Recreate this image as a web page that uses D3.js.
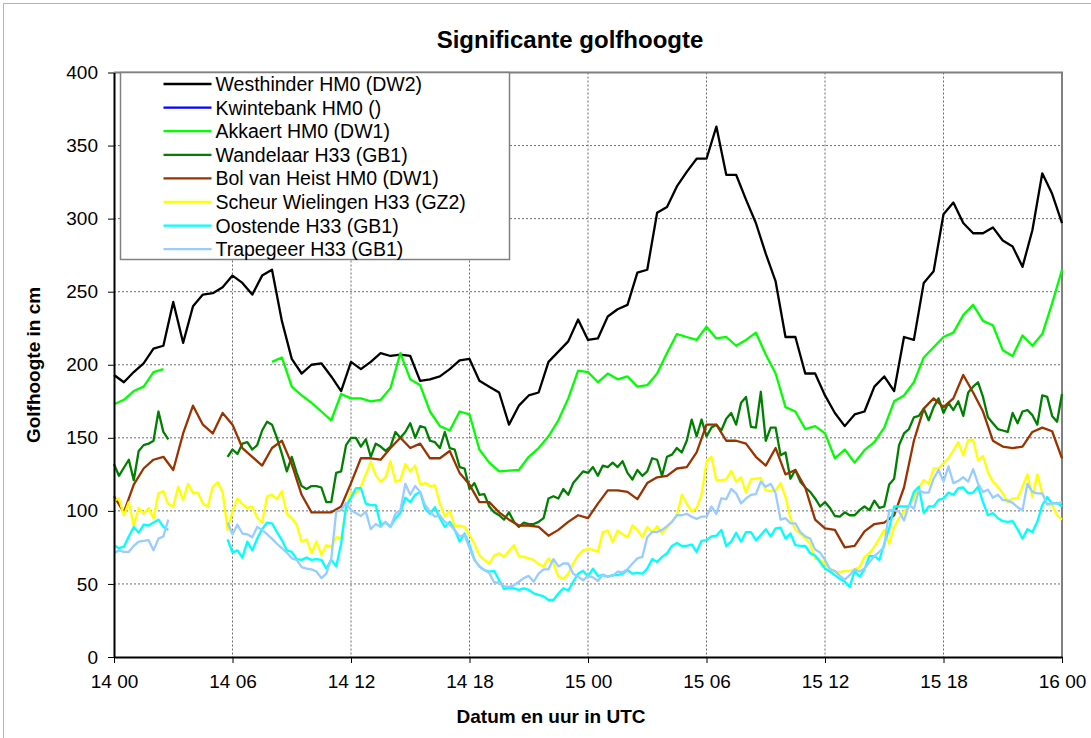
<!DOCTYPE html>
<html>
<head>
<meta charset="utf-8">
<script src="https://cdn.jsdelivr.net/npm/d3@7"></script>
<style>
  body { margin: 0; background: #fff; }
  svg { display: block; font-family: "Liberation Sans", Arial, sans-serif; }
  .eje path { stroke: #000; stroke-width: 2; }
  .eje line { stroke: #000; stroke-width: 1; }
  .eje text { font-size: 19px; fill: #000; }
</style>
</head>
<body>
<div id="graf"></div>
<script>
// uren sinds 14 00 UTC; 30-min reeksen en 15-min reeksen
const westhinder = [193,188,195,201,211,213,243,215,240,248,249,253,261,256,248,261,265,
  230,204,194,200,201,192,182,202,197,202,208,206,207,206,189,190,
  192,197,203,204,189,185,181,159,172,179,181,202,209,216,231,217,
  218,233,238,241,263,265,304,308,322,332,341,341,363,330,330,313,
  297,276,257,219,219,194,194,179,167,158,166,168,185,192,182,219,
  217,256,264,303,311,297,290,290,294,285,281,267,292,331,317,297];

const kwintebank = [];

const akkaert = [173,176,182,185,195,197,null,null,null,null,null,null,null,null,null,null,202,
  205,185,179,174,168,162,180,177,177,175,176,184,208,190,186,168,
  158,155,168,166,142,133,127,127.5,128,137,143,151,162,177,196,195,
  188,194,190,192,185,186,194,208,221,219,217,226,218,219,213,217,
  222,207,194,171,168,156,158,153,136,142,133,141.5,147,157,175,179,
  188,205,212,219,222,234,241,230,227,210,206,220,213,221,242,265];

const bolVanHeist = [110,99,118,129,135,137,128,153,172,159,153,167,159,143,137,131,143,
  148,132,111,99,99,99,103,119,136,136,135,143,150,143,146,136,
  136,141,126,118,106,106,99,94,90,90,89,83,87,92.5,97,95,
  105,114,114,113,108,119,123,124,129,130,140,159,159,148,148,146,
  137,131,143,125,128,116,94,88,87,75,76,86,91,92,97,116,
  148,170,177,171,177,193,181,168,148,144,143,144,154,157,154.5,136];

const wandelaar = [132,124,129.5,135, 121,141,145,146, 148,168,154,149,
  null,null,null,null, null,null,null,null, null,null,null,137,
  142,139,146,147, 142,145,155,161, 159,150,139,127, 137,126,117,115,
  117,117,116,106, 106,126,127,145, 150,150,144,149, 137,146,144,141,
  144,154,150,154, 160,150,158,157, 148,147,143,154, 143,142,130,129,
  115,119,111,111.5, 103,99,97,94, 99,92.5,89,92, 91,91,92.5,95,
  108.5,110,108.5,115, 111,119,123,127, 126,130,124,131, 130,133,130,134,
  126,121.5,128,124, 127,136,135,124, 137,138.5,143,140, 148,162.5,151,162.5,
  151,157,159,155, 163,167,159,174, 178,157.5,157,181.5, 148,157,157,138,
  140,122,128,120, 116,113,108.5,103, 106,102,96.5,96, 99,97,97,100.5,
  103,100.5,107,102, 103,118,122,145, 153,156,164,165, 170,162,171,177,
  167,174,169,175, 165,181,185,188, 178,164,160,156, 155,154,167,160,
  168,169,165.5,159, 179,178,165,161, 180];

const scheur = [107,108.5,97,106, 90,102,98,102, 95,112,113.5,104.5, 103,116.5,107.5,118.5,
  112,112.5,105,103, 116.5,119.5,113,87, 99.5,108.5,104.5,102, 103,95.5,92,110,
  111,108,113.5,98, 95,90.5,79,80.5, 71,79,70,76.5, 75.5,82,81,101.5,
  113,112,116.5,125, 133.5,124.5,120,123, 134,120,121,132, 127,131,118,119,
  117,117.5,105,96, 100,89.5,90,89, 83.5,77.5,69.5,66.5, 64,69.5,71,68.5,
  72.5,76.5,69,68.5, 67.5,66.5,63.5,62, 67.5,64,55,53.5, 57,64,69.5,73,
  74,73.5,72,85.5, 86.5,78.5,86.5,84, 82,90,87,82, 89,85.5,89.5,84.5,
  89,92.5,97,111, 105,99.5,102,111, 133.5,137,121,121, 121.5,127.5,120,123,
  112.5,121.5,122,122.5, 114,113.5,114,119, 109.5,95,87,84.5, 81,77.5,67.5,66.5,
  64,60.5,58.5,58, 59,59,60,61.5, 68.5,71,75.5,81, 87,77.5,89,95,
  99.5,103,109.5,115.5, 121,118.5,129,129, 132.5,136,141.5,147, 138,148.5,148.5,134.5,
  137.5,126.5,120,116.5, 112,106,108.5,108.5, 116.5,125,109.5,125, 112,104,104,97, 94];

const oostende = [76.5,74.5,75.5,82.5, 89,85,90.5,90, 92,94,89,87,
  null,null,null,null, null,null,null,null, null,null,null,80.5,
  71.5,73,68,79, 73,81,87.5,92, 91.5,85.5,80,73, 72,67,66.5,68,
  66.5,67,66.5,60.5, 66.5,62,77.5,103, 109,115.5,115.5,105, 104,104,90.5,92,
  89,95,98.5,109, 106,111,113,101.5, 98,102.5,95,89, 92.5,87,79,84.5,
  76.5,66.5,62,59.5, 58.5,59,52.5,46.5, 47.5,47,46,47, 46,43.5,42.5,41.5,
  39,39,43.5,47, 45.5,51.5,57,59, 55,60.5,55.5,56, 55,56,56,57,
  59.5,57,57.5,57, 60.5,67,65,68.5, 71,76,78,76, 76,77,72,79.5,
  80,82.5,83,87, 76,79,85,79, 85.5,85.5,80,83.5, 87.5,82.5,88,88.5,
  81,84.5,76.5,76, 76,71,69.5,65, 60.5,58.5,56,53.5, 51.5,48,59,55,
  60,69,69,66.5, 77.5,88,103,103, 103,103,113,116.5, 98.5,103,103,107.5,
  108.5,112.5,111,115.5, 116,112,112.5,116.5, 106,97,98.5,95, 93,92.5,93,87.5,
  81,87.5,85.5,92.5, 104,109.5,105,105.5, 103];

const trapegeer = [71,73,72,72, 76,79,79.5,80, 73,81,82.5,94,
  null,null,null,null, null,null,null,null, null,null,null,92,
  84,90.5,84.5,84, 82,89,87,84, 81,77.5,74.5,71.5, 67.5,66.5,61.5,60.5,
  60,58.5,54,57, 67,99.5,100.5,105.5, 100.5,98.5,96.5,99.5, 87.5,91,89,92.5,
  89,98,100.5,118.5, 111,117,113,104, 99.5,96,97,92.5, 90.5,87,82.5,83.5,
  74.5,66.5,62,59.5, 57.5,51,51,48.5, 48,49,51.5,54, 55.5,51.5,57,60,
  60,67,62,64, 64,57,55,52.5, 55.5,54.5,52,56.5, 55,55.5,58.5,58,
  60,64,67.5,68.5, 82,85.5,85.5,87, 89.5,92.5,97,97, 98,96,94.5,96,
  96,103,98,108.5, 108,115,112,105, 108.5,111,111.5,120, 116.5,118.5,112,94,
  95,91.5,91.5,85.5, 82.5,81,73.5,71.5, 66.5,60,59,55.5, 53,56,60,58.5,
  60.5,65,69,72, 75.5,100.5,100.5,99.5, 93.5,104,101.5,114, 112.5,112.5,122,128,
  120,130.5,119,120.5, 123,120,128.5,118.5, 113,114.5,109,111, 107.5,107,105.5,102.5,
  100.5,118.5,113,112, 112,104.5,105.5,105, 106];

const reeksen = [
  { naam: "Westhinder HM0 (DW2)", waarden: westhinder, stap: 0.5, kleur: "#000000" },
  { naam: "Kwintebank HM0 ()", waarden: kwintebank, stap: 0.5, kleur: "#0000ff" },
  { naam: "Akkaert HM0 (DW1)", waarden: akkaert, stap: 0.5, kleur: "#00ff00" },
  { naam: "Wandelaar H33 (GB1)", waarden: wandelaar, stap: 0.25, kleur: "#008000" },
  { naam: "Bol van Heist HM0 (DW1)", waarden: bolVanHeist, stap: 0.5, kleur: "#993300" },
  { naam: "Scheur Wielingen H33 (GZ2)", waarden: scheur, stap: 0.25, kleur: "#ffff00" },
  { naam: "Oostende H33 (GB1)", waarden: oostende, stap: 0.25, kleur: "#00ffff" },
  { naam: "Trapegeer H33 (GB1)", waarden: trapegeer, stap: 0.25, kleur: "#99ccff" },
];

const xTicks = [0, 6, 12, 18, 24, 30, 36, 42, 48];
const xLabels = ["14 00", "14 06", "14 12", "14 18", "15 00", "15 06", "15 12", "15 18", "16 00"];
const yTicks = [0, 50, 100, 150, 200, 250, 300, 350, 400];

const ancho_total = 1091;
const alto_total = 738;
const margins = { top: 72.5, left: 114, right: 29, bottom: 81 };
const ancho = ancho_total - margins.left - margins.right;
const alto = alto_total - margins.top - margins.bottom;

const svg = d3.select("#graf")
  .append("svg")
  .attr("width", ancho_total)
  .attr("height", alto_total);

// buitenkader
svg.append("rect")
  .attr("x", 3.5).attr("y", 3.5)
  .attr("width", ancho_total + 20).attr("height", alto_total + 20)
  .attr("fill", "none").attr("stroke", "#b4b4b4");

const g = svg.append("g")
  .attr("transform", `translate(${margins.left}, ${margins.top})`);

const x = d3.scaleLinear().domain([0, 48]).range([0, ancho]);
const y = d3.scaleLinear().domain([0, 400]).range([alto, 0]);

// rooster
g.selectAll(".hgrid").data(yTicks.slice(1, -1)).enter()
  .append("line")
  .attr("x1", 0).attr("x2", ancho)
  .attr("y1", d => y(d)).attr("y2", d => y(d))
  .attr("stroke", "#6e6e6e").attr("stroke-width", 1)
  .attr("stroke-dasharray", "2,2");

g.selectAll(".vgrid").data(xTicks.slice(1, -1)).enter()
  .append("line")
  .attr("y1", 0).attr("y2", alto)
  .attr("x1", d => x(d)).attr("x2", d => x(d))
  .attr("stroke", "#6e6e6e").attr("stroke-width", 1)
  .attr("stroke-dasharray", "2,2");

// kader boven en rechts
g.append("path")
  .attr("d", `M0,0H${ancho}V${alto}`)
  .attr("fill", "none").attr("stroke", "#808080").attr("stroke-width", 2);

// lijnen
const linea = d3.line()
  .defined(d => d.v != null)
  .x(d => x(d.t))
  .y(d => y(d.v));

reeksen.forEach(s => {
  const puntos = s.waarden.map((v, i) => ({ t: i * s.stap, v: v }));
  g.append("path")
    .datum(puntos)
    .attr("d", linea)
    .attr("fill", "none")
    .attr("stroke", s.kleur)
    .attr("stroke-width", 2.3)
    .attr("stroke-linejoin", "round");
});

// assen
const yAxisGroup = g.append("g").attr("class", "eje")
  .call(d3.axisLeft(y).tickValues(yTicks).tickSize(6).tickPadding(10).tickSizeOuter(0));

const xAxisGroup = g.append("g").attr("class", "eje")
  .attr("transform", `translate(0, ${alto})`)
  .call(d3.axisBottom(x).tickValues(xTicks).tickSize(6).tickPadding(12).tickSizeOuter(0)
    .tickFormat((d, i) => xLabels[i]));

// legende
const leg = svg.append("g").attr("transform", "translate(120.5, 72.5)");
leg.append("rect")
  .attr("width", 389).attr("height", 187)
  .attr("fill", "#fff").attr("stroke", "#808080").attr("stroke-width", 1.5);

reeksen.forEach((s, i) => {
  const yy = 11.5 + i * 23.6;
  leg.append("line")
    .attr("x1", 43).attr("x2", 91)
    .attr("y1", yy).attr("y2", yy)
    .attr("stroke", s.kleur).attr("stroke-width", 2.3);
  leg.append("text")
    .attr("x", 95).attr("y", yy + 7)
    .attr("font-size", "19.5px")
    .text(s.naam);
});

// titels
svg.append("text")
  .attr("x", 570).attr("y", 48)
  .attr("text-anchor", "middle")
  .attr("font-size", "24px").attr("font-weight", "bold")
  .text("Significante golfhoogte");

svg.append("text")
  .attr("x", 551).attr("y", 723)
  .attr("text-anchor", "middle")
  .attr("font-size", "19px").attr("font-weight", "bold")
  .text("Datum en uur in UTC");

svg.append("text")
  .attr("transform", "translate(40, 365) rotate(-90)")
  .attr("text-anchor", "middle")
  .attr("font-size", "19px").attr("font-weight", "bold")
  .text("Golfhoogte in cm");
</script>
</body>
</html>
